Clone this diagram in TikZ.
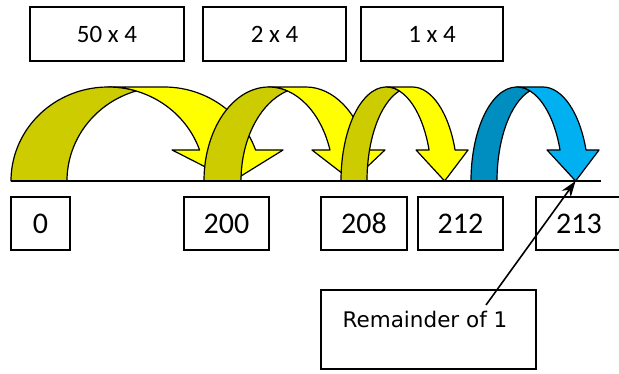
\documentclass[tikz,border=0pt]{standalone}
\usepackage{fontspec}
\setmainfont{Carlito}
\newfontfamily\remfont{DejaVu Sans}
\usetikzlibrary{arrows.meta}
\definecolor{ylight}{HTML}{FFFF00}
\definecolor{ydark}{HTML}{CCCC00}
\definecolor{blight}{HTML}{00B0F0}
\definecolor{bdark}{HTML}{008DC0}
\tikzset{
  topbox/.style={draw, line width=1.3pt, minimum width=#1, minimum height=54pt, inner sep=0pt, font=\fontsize{25}{30}\selectfont},
  numbox/.style={draw, line width=1.3pt, minimum width=#1, minimum height=53pt, inner sep=0pt, font=\fontsize{30}{36}\selectfont},
  bandline/.style={draw=black, line width=1.2pt, line join=round},
  remarrow/.style={line width=1.6pt, -{Stealth[length=16pt,width=11pt]}},
}
% #1 left, #2 band thickness, #3 ellipse x radius, #4 head width, #5 light, #6 dark
\newcommand\CurvArr[6]{%
  \pgfmathsetmacro\CAl{#1}%
  \pgfmathsetmacro\CAth{#2}%
  \pgfmathsetmacro\CAwr{#3}%
  \pgfmathsetmacro\CAaw{#4}%
  \pgfmathsetmacro\CAdx{\CAwr*0.94406}%
  \pgfmathsetmacro\CAxv{\CAl+\CAwr+\CAdx}%
  \pgfmathsetmacro\CAxvii{\CAxv+\CAth}%
  \pgfmathsetmacro\CAxiv{\CAxv-(\CAaw-\CAth)/2}%
  \pgfmathsetmacro\CAxviii{\CAxvii+(\CAaw-\CAth)/2}%
  \pgfmathsetmacro\CAxvi{\CAl+2*\CAwr+\CAth/2}%
  \pgfmathsetmacro\CAtb{\CAl+\CAwr+\CAth}%
  \pgfmathsetmacro\CAang{acos(\CAth/(2*\CAwr))}%
  \pgfmathsetmacro\CAangb{180-\CAang}%
  \filldraw[fill=#5, bandline] (\CAxvi,193) -- (\CAxiv,224) -- (\CAxv,224)
    arc[start angle=19.26, end angle=90, x radius=\CAwr pt, y radius=94pt]
    -- (\CAtb,287)
    arc[start angle=90, end angle=19.26, x radius=\CAwr pt, y radius=94pt]
    -- (\CAxviii,224) -- cycle;
  \filldraw[fill=#6, bandline] (\CAl,193)
    arc[start angle=180, end angle=\CAang, x radius=\CAwr pt, y radius=94pt]
    arc[start angle=\CAangb, end angle=180, x radius=\CAwr pt, y radius=94pt]
    -- cycle;
}
\begin{document}
\begin{tikzpicture}[x=1pt,y=1pt]
\useasboundingbox (0,0) rectangle (619,374);
% top boxes
\node[topbox=154pt] (ta) at (107,340) {50 x 4};
\node[topbox=143pt] (tb) at (274.5,340) {2 x 4};
\node[topbox=142pt] (tc) at (432,340) {1 x 4};
% curved arrows
\CurvArr{11}{56}{97}{111}{ylight}{ydark}
\CurvArr{204}{37}{64.8}{73}{ylight}{ydark}
\CurvArr{341}{26}{45.3}{52}{ylight}{ydark}
\CurvArr{471}{26}{45.8}{52}{blight}{bdark}
% number line
\coordinate (axl) at (11,193);
\coordinate (axr) at (601,193);
\draw[line width=1.4pt] (axl) -- (axr);
% number boxes
\node[numbox=59pt] (n0) at (40.5,150.5) {0};
\node[numbox=85pt] (n200) at (226.5,150.5) {200};
\node[numbox=86pt] (n208) at (364,150.5) {208};
\node[numbox=85pt] (n212) at (460.5,150.5) {212};
\node[numbox=86pt] (n213) at (579,150.5) {213};
% remainder
\node[draw, line width=1.3pt, minimum width=215pt, minimum height=79pt, inner sep=0pt] (rembox) at (428.5,44.5) {};
\node[font=\remfont\fontsize{21.5}{25}\selectfont, inner sep=0pt] (remtext) at (425,55) {Remainder of 1};
\coordinate (remstart) at (486,69);
\coordinate (tipfour) at (575.6,193);
\draw[remarrow] (remstart) -- (tipfour);
\end{tikzpicture}
\end{document}
